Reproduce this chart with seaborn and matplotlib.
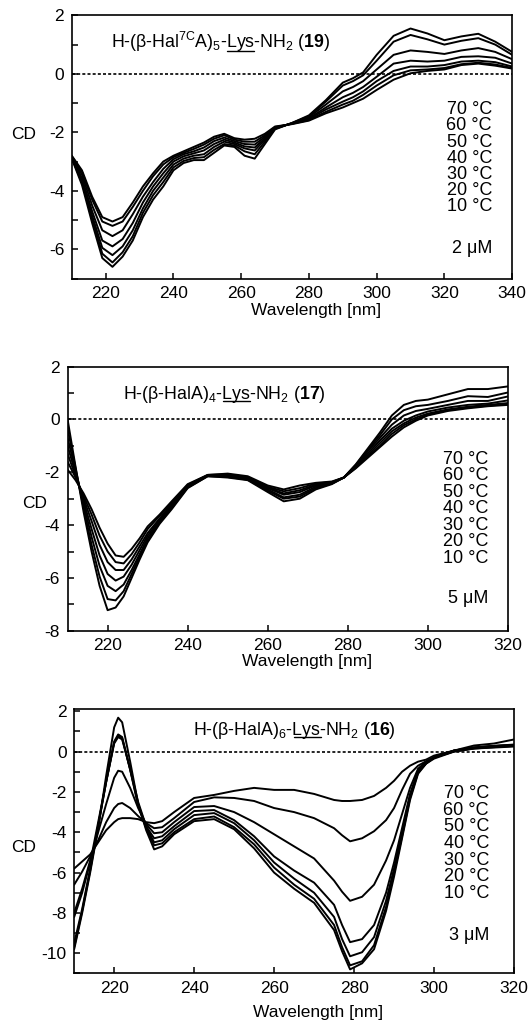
#%%
# CD spectra of three beta-peptides at several temperatures
import pandas as pd
import seaborn as sns
import matplotlib.pyplot as plt
from matplotlib.ticker import MultipleLocator

#%%
temps = [10, 20, 30, 40, 50, 60, 70]

# Panel 1: H-(b-Hal7CA)5-Lys-NH2 (19), 2 uM
wl_19 = [210, 213, 216, 219, 222, 225, 228, 231, 234, 237, 240, 243, 246, 249, 252, 255, 258, 261,
         264, 267, 270, 275, 280, 285, 290, 293, 296, 300, 305, 310, 315, 320, 325, 330, 335, 340]
cd_19 = {
    10: [-2.90, -3.80, -5.10, -6.30, -6.60, -6.25, -5.70, -4.90, -4.30, -3.85, -3.30, -3.05, -2.95, -2.95, -2.70, -2.45, -2.50, -2.80,
         -2.90, -2.40, -1.90, -1.68, -1.42, -0.90, -0.30, -0.15, 0.05, 0.65, 1.30, 1.55, 1.38, 1.15, 1.28, 1.37, 1.10, 0.75],
    20: [-2.88, -3.72, -4.95, -6.15, -6.45, -6.10, -5.55, -4.75, -4.15, -3.70, -3.20, -2.98, -2.88, -2.85, -2.60, -2.40, -2.45, -2.65,
         -2.75, -2.32, -1.88, -1.68, -1.45, -0.95, -0.40, -0.25, -0.05, 0.45, 1.10, 1.33, 1.18, 1.00, 1.13, 1.22, 1.00, 0.65],
    30: [-2.87, -3.65, -4.85, -5.95, -6.20, -5.90, -5.35, -4.60, -4.00, -3.55, -3.10, -2.90, -2.80, -2.75, -2.50, -2.32, -2.40, -2.55,
         -2.62, -2.25, -1.87, -1.69, -1.48, -1.05, -0.60, -0.45, -0.25, 0.15, 0.65, 0.80, 0.75, 0.68, 0.80, 0.88, 0.75, 0.50],
    40: [-2.85, -3.57, -4.70, -5.70, -5.90, -5.65, -5.10, -4.40, -3.85, -3.40, -3.00, -2.82, -2.72, -2.62, -2.40, -2.25, -2.35, -2.48,
         -2.52, -2.20, -1.85, -1.70, -1.52, -1.15, -0.80, -0.65, -0.45, -0.10, 0.35, 0.45, 0.42, 0.45, 0.58, 0.60, 0.55, 0.35],
    50: [-2.84, -3.45, -4.50, -5.35, -5.55, -5.35, -4.80, -4.20, -3.70, -3.25, -2.92, -2.75, -2.65, -2.52, -2.30, -2.18, -2.30, -2.40,
         -2.42, -2.15, -1.84, -1.70, -1.55, -1.22, -0.95, -0.80, -0.60, -0.25, 0.10, 0.25, 0.25, 0.30, 0.42, 0.45, 0.40, 0.25],
    60: [-2.82, -3.35, -4.30, -5.05, -5.20, -5.05, -4.55, -4.00, -3.50, -3.10, -2.85, -2.70, -2.57, -2.42, -2.22, -2.10, -2.25, -2.32,
         -2.32, -2.10, -1.82, -1.71, -1.58, -1.30, -1.05, -0.92, -0.72, -0.40, -0.05, 0.12, 0.15, 0.20, 0.33, 0.38, 0.32, 0.20],
    70: [-2.80, -3.30, -4.20, -4.90, -5.05, -4.90, -4.40, -3.85, -3.40, -3.00, -2.80, -2.65, -2.50, -2.35, -2.15, -2.05, -2.20, -2.25,
         -2.22, -2.05, -1.80, -1.72, -1.60, -1.35, -1.15, -1.00, -0.85, -0.55, -0.20, 0.02, 0.10, 0.15, 0.30, 0.35, 0.28, 0.18],
}

# Panel 2: H-(b-HalA)4-Lys-NH2 (17), 5 uM
wl_17 = [210, 212, 214, 216, 218, 220, 222, 224, 226, 228, 230, 233, 236, 240, 245, 250, 255,
         260, 264, 268, 272, 276, 279, 282, 285, 288, 291, 294, 297, 300, 305, 310, 315, 320]
cd_17 = {
    10: [0.0, -1.8, -3.5, -5.0, -6.3, -7.22, -7.12, -6.7, -6.0, -5.3, -4.65, -3.95, -3.4, -2.6, -2.15, -2.2, -2.3,
         -2.75, -3.1, -3.0, -2.65, -2.45, -2.2, -1.7, -1.1, -0.5, 0.15, 0.55, 0.7, 0.75, 0.95, 1.15, 1.15, 1.25],
    20: [-0.35, -1.85, -3.35, -4.75, -5.95, -6.8, -6.85, -6.5, -5.85, -5.2, -4.6, -3.9, -3.35, -2.58, -2.15, -2.18, -2.28,
         -2.7, -3.0, -2.92, -2.6, -2.43, -2.2, -1.72, -1.15, -0.6, 0.0, 0.35, 0.5, 0.55, 0.7, 0.88, 0.85, 1.02],
    30: [-0.7, -1.95, -3.2, -4.45, -5.55, -6.3, -6.5, -6.25, -5.7, -5.1, -4.5, -3.85, -3.3, -2.55, -2.13, -2.15, -2.25,
         -2.65, -2.95, -2.85, -2.55, -2.42, -2.2, -1.75, -1.2, -0.7, -0.2, 0.15, 0.32, 0.4, 0.55, 0.7, 0.7, 0.87],
    40: [-1.0, -2.05, -3.1, -4.15, -5.15, -5.85, -6.1, -5.95, -5.5, -4.95, -4.4, -3.8, -3.25, -2.52, -2.12, -2.12, -2.22,
         -2.6, -2.85, -2.75, -2.5, -2.4, -2.2, -1.78, -1.28, -0.8, -0.35, -0.05, 0.15, 0.3, 0.45, 0.55, 0.6, 0.72],
    50: [-1.3, -2.15, -3.0, -3.85, -4.75, -5.4, -5.7, -5.7, -5.3, -4.8, -4.3, -3.75, -3.2, -2.5, -2.12, -2.1, -2.2,
         -2.58, -2.8, -2.68, -2.47, -2.38, -2.2, -1.8, -1.35, -0.9, -0.45, -0.15, 0.07, 0.22, 0.38, 0.48, 0.55, 0.62],
    60: [-1.6, -2.2, -2.9, -3.6, -4.4, -5.0, -5.4, -5.45, -5.1, -4.65, -4.15, -3.65, -3.15, -2.48, -2.1, -2.08, -2.18,
         -2.55, -2.72, -2.6, -2.43, -2.37, -2.2, -1.83, -1.4, -1.0, -0.55, -0.22, 0.0, 0.18, 0.35, 0.45, 0.52, 0.58],
    70: [-1.9, -2.3, -2.8, -3.4, -4.1, -4.7, -5.15, -5.2, -4.9, -4.5, -4.05, -3.6, -3.1, -2.45, -2.1, -2.05, -2.15,
         -2.5, -2.65, -2.5, -2.4, -2.35, -2.2, -1.85, -1.45, -1.05, -0.65, -0.3, -0.05, 0.15, 0.32, 0.42, 0.5, 0.55],
}

# Panel 3: H-(b-HalA)6-Lys-NH2 (16), 3 uM
wl_16 = [210, 212, 214, 216, 218, 220, 221, 222, 224, 226, 228, 230, 232, 235, 240, 245, 250, 255,
         260, 265, 270, 275, 277, 279, 282, 285, 288, 290, 292, 294, 296, 298, 300, 305, 310, 315, 320]
cd_16 = {
    10: [-9.8, -8.0, -6.0, -3.8, -1.2, 1.2, 1.68, 1.45, -0.5, -2.6, -3.9, -4.85, -4.7, -4.1, -3.45, -3.35, -3.85, -4.8,
         -6.0, -6.8, -7.5, -8.85, -9.9, -10.8, -10.5, -9.8, -7.9, -6.2, -4.3, -2.4, -1.1, -0.6, -0.35, 0.0, 0.15, 0.2, 0.25],
    20: [-9.7, -7.9, -5.9, -3.7, -1.5, 0.5, 0.85, 0.72, -0.9, -2.7, -3.8, -4.65, -4.55, -4.0, -3.35, -3.22, -3.75, -4.6,
         -5.75, -6.6, -7.3, -8.6, -9.7, -10.6, -10.4, -9.6, -7.7, -6.0, -4.2, -2.3, -1.05, -0.6, -0.3, 0.0, 0.15, 0.22, 0.28],
    30: [-9.5, -7.8, -5.8, -3.65, -1.5, 0.45, 0.78, 0.66, -0.9, -2.6, -3.75, -4.5, -4.4, -3.85, -3.15, -3.05, -3.55, -4.4,
         -5.5, -6.3, -7.0, -8.2, -9.3, -10.15, -9.95, -9.2, -7.4, -5.8, -4.0, -2.2, -1.0, -0.58, -0.3, 0.02, 0.17, 0.25, 0.3],
    40: [-8.2, -7.0, -5.5, -3.5, -1.5, 0.4, 0.72, 0.6, -0.85, -2.5, -3.7, -4.3, -4.2, -3.7, -2.95, -2.9, -3.4, -4.2,
         -5.2, -5.9, -6.5, -7.6, -8.6, -9.45, -9.3, -8.6, -7.0, -5.5, -3.8, -2.1, -0.95, -0.55, -0.3, 0.05, 0.2, 0.28, 0.32],
    50: [-8.0, -6.8, -5.4, -4.0, -2.6, -1.3, -0.95, -1.0, -1.8, -2.8, -3.6, -4.05, -4.0, -3.5, -2.75, -2.7, -3.0, -3.5,
         -4.1, -4.7, -5.3, -6.4, -6.95, -7.4, -7.2, -6.6, -5.4, -4.4, -3.1, -1.8, -0.85, -0.5, -0.3, 0.05, 0.2, 0.28, 0.32],
    60: [-6.6, -5.95, -5.2, -4.4, -3.5, -2.8, -2.6, -2.55, -2.8, -3.2, -3.55, -3.8, -3.75, -3.3, -2.5, -2.27, -2.3, -2.45,
         -2.8, -3.0, -3.3, -3.8, -4.15, -4.45, -4.3, -3.95, -3.4, -2.8, -1.9, -1.1, -0.7, -0.48, -0.3, 0.05, 0.2, 0.28, 0.35],
    70: [-5.8, -5.45, -5.1, -4.5, -3.9, -3.5, -3.35, -3.3, -3.3, -3.35, -3.5, -3.55, -3.45, -3.0, -2.3, -2.15, -1.95, -1.8,
         -1.9, -1.9, -2.1, -2.4, -2.45, -2.45, -2.4, -2.2, -1.8, -1.45, -1.0, -0.7, -0.5, -0.4, -0.2, 0.05, 0.3, 0.4, 0.6],
}

#%%
sns.set_style("ticks")
plt.rcParams["font.family"] = ["Liberation Sans", "DejaVu Sans"]
plt.rcParams["mathtext.fontset"] = "custom"
plt.rcParams["mathtext.rm"] = "Liberation Sans"
plt.rcParams["mathtext.it"] = "Liberation Sans:italic"
plt.rcParams["mathtext.bf"] = "Liberation Sans:bold"
plt.rcParams["axes.unicode_minus"] = False
for key in ["text.color", "axes.labelcolor", "xtick.color", "ytick.color", "axes.edgecolor"]:
    plt.rcParams[key] = "black"

fig = plt.figure(figsize=(5.28, 10.24), dpi=100)

panels = [
    dict(wl=wl_19, cd=cd_19, rect=[0.136, 0.728, 0.834, 0.257], xlim=(210, 340), ylim=(-7, 2),
         yticks=[-6, -4, -2, 0, 2], conc="2 μM",
         pre=r"H-(β-Hal$^{\mathrm{7C}}$A)$_{5}$-", post=r"-NH$_{2}$ ($\mathbf{19}$)",
         title_xy=(0.088, 0.875), temp_xy=(0.954, 0.641, 0.0613), conc_y=0.116,
         cd_xy=(-0.109, 0.546), xl_xy=(0.555, -0.1205)),
    dict(wl=wl_17, cd=cd_17, rect=[0.128, 0.384, 0.834, 0.258], xlim=(210, 320), ylim=(-8, 2),
         yticks=[-8, -6, -4, -2, 0, 2], conc="5 μM",
         pre=r"H-(β-HalA)$_{4}$-", post=r"-NH$_{2}$ ($\mathbf{17}$)",
         title_xy=(0.126, 0.877), temp_xy=(0.956, 0.650, 0.0627), conc_y=0.124,
         cd_xy=(-0.074, 0.48), xl_xy=(0.543, -0.117)),
    dict(wl=wl_16, cd=cd_16, rect=[0.1405, 0.0494, 0.833, 0.258], xlim=(210, 320), ylim=(-11, 2.1),
         yticks=[-10, -8, -6, -4, -2, 0, 2], conc="3 μM",
         pre=r"H-(β-HalA)$_{6}$-", post=r"-NH$_{2}$ ($\mathbf{16}$)",
         title_xy=(0.271, 0.904), temp_xy=(0.943, 0.681, 0.0632), conc_y=0.144,
         cd_xy=(-0.115, 0.477), xl_xy=(0.554, -0.1475)),
]

renderer = fig.canvas.get_renderer()

for p in panels:
    ax = fig.add_axes(p["rect"])
    rows = []
    for t in temps:
        for w, v in zip(p["wl"], p["cd"][t]):
            rows.append({"wavelength": w, "cd": v, "temp": t})
    df = pd.DataFrame(rows)
    sns.lineplot(data=df, x="wavelength", y="cd", units="temp", estimator=None,
                 color="black", lw=1.4, ax=ax)
    ax.axhline(0, color="black", lw=1.2, ls=(0, (1.8, 1.3)), zorder=1)

    ax.set_xlim(*p["xlim"])
    ax.set_ylim(*p["ylim"])
    ax.set_xticks(range(220, p["xlim"][1] + 1, 20))
    ax.set_yticks(p["yticks"])
    ax.yaxis.set_minor_locator(MultipleLocator(1))
    ax.tick_params(which="both", direction="in", length=4.5, width=1.1, labelsize=12.5, pad=5.5)
    for s in ax.spines.values():
        s.set_linewidth(1.2)

    ax.set_xlabel("Wavelength [nm]", fontsize=12.5, va="center")
    ax.xaxis.set_label_coords(*p["xl_xy"])
    ax.set_ylabel("CD", fontsize=12.5, rotation=0, va="center", ha="center")
    ax.yaxis.set_label_coords(*p["cd_xy"])

    # temperatures, concentration
    tx, ty, step = p["temp_xy"]
    for i, t in enumerate(temps[::-1]):
        ax.text(tx, ty - i * step, f"{t} °C", transform=ax.transAxes, ha="right", va="center", fontsize=13)
    ax.text(tx, p["conc_y"], p["conc"], transform=ax.transAxes, ha="right", va="center", fontsize=13)

    # compound name with underlined Lys
    kw = dict(transform=ax.transAxes, fontsize=12.8, ha="left", va="baseline")
    x0, y0 = p["title_xy"]
    ax.text(x0, y0, p["pre"] + "Lys" + p["post"], **kw)
    a = ax.text(x0, y0, p["pre"], alpha=0, **kw)
    b = ax.text(x0, y0, p["pre"] + "Lys", alpha=0, **kw)
    ux0 = a.get_window_extent(renderer).x1
    ux1 = b.get_window_extent(renderer).x1
    a.remove()
    b.remove()
    base = ax.transAxes.transform((x0, y0))[1]
    inv = ax.transAxes.inverted()
    (u0, uy), (u1, _) = inv.transform([(ux0 + 0.5, base - 2.4), (ux1 - 0.5, base - 2.4)])
    ax.plot([u0, u1], [uy, uy], transform=ax.transAxes, color="black", lw=1.0)

fig.savefig("out.png", dpi=100)
